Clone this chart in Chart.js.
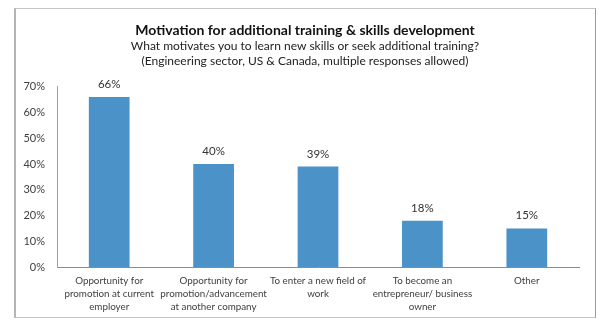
<!DOCTYPE html>
<html>
  <head>
    <style>
      body {
        margin: 0;
        background: #fff;
      }
      #frame {
        position: absolute;
        left: 14px;
        top: 8px;
        width: 579px;
        height: 308px;
        border: 1px solid #c4c4c4;
        border-left: 2px solid #b4b4b4;
        border-right-color: #9a9a9a;
      }
      #myChart {
        position: absolute;
        left: 0;
        top: 0;
      }
    </style>
  </head>

  <body>
    <div id="frame"></div>
    <canvas id="myChart" width="610" height="326"></canvas>

    <script src="https://cdn.jsdelivr.net/npm/chart.js"></script>
    <script>
      const ctx = document.getElementById('myChart');

      const reasons = [
        ['Opportunity for', 'promotion at current', 'employer'],
        ['Opportunity for', 'promotion/advancement', 'at another company'],
        ['To enter a new field of', 'work'],
        ['To become an', 'entrepreneur/ business', 'owner'],
        'Other'
      ];
      const shares = [66, 40, 39, 18, 15];
      const yTicks = [0, 10, 20, 30, 40, 50, 60, 70];

      const barBlue = '#4a92c8';
      const fontFamily = 'Lato, "Open Sans", sans-serif';

      // percentage text above each bar
      const valueLabels = {
        id: 'valueLabels',
        afterDatasetsDraw(chart) {
          const c = chart.ctx;
          const meta = chart.getDatasetMeta(0);
          c.save();
          c.font = '11.5px ' + fontFamily;
          c.fillStyle = '#333';
          c.textAlign = 'center';
          c.textBaseline = 'bottom';
          meta.data.forEach((bar, i) => {
            c.fillText(chart.data.datasets[0].data[i] + '%', bar.x, bar.y - 7);
          });
          c.restore();
        }
      };

      // centre the heading lines on the whole frame rather than the padded box
      const centerHeadings = {
        id: 'centerHeadings',
        afterLayout(chart) {
          chart.boxes.forEach(b => {
            if (b.position === 'top' && b.options && b.options.text !== undefined) {
              b.left += 16;
            }
          });
        }
      };

      new Chart(ctx, {
        type: 'bar',
        data: {
          labels: reasons,
          datasets: [{
            data: shares,
            backgroundColor: barBlue,
            categoryPercentage: 1,
            barPercentage: 0.39
          }]
        },
        plugins: [valueLabels, centerHeadings],
        options: {
          responsive: false,
          animation: false,
          layout: {
            padding: { top: 8, left: 15, right: 31, bottom: 0 }
          },
          plugins: {
            legend: { display: false },
            tooltip: { enabled: false },
            title: {
              display: true,
              text: 'Motivation for additional training & skills development',
              color: '#111',
              font: { family: fontFamily, size: 14, weight: 'bold', lineHeight: 1.2 },
              padding: { top: 14, bottom: 0 }
            },
            subtitle: {
              display: true,
              text: [
                'What motivates you to learn new skills or seek additional training?',
                '(Engineering sector, US & Canada, multiple responses allowed)'
              ],
              color: '#222',
              font: { family: fontFamily, size: 12, lineHeight: 1.25 },
              padding: { top: 0, bottom: 18 }
            }
          },
          scales: {
            x: {
              grid: { display: false, drawTicks: false },
              border: { display: true, color: '#8c8c8c' },
              ticks: {
                color: '#404040',
                padding: 8,
                maxRotation: 0,
                autoSkip: false,
                font: { family: fontFamily, size: 9.8, lineHeight: 1.28 }
              },
              afterFit(scale) {
                scale.height = 59;
              }
            },
            y: {
              min: 0,
              max: 70,
              afterBuildTicks(scale) {
                scale.ticks = yTicks.map(v => ({ value: v }));
              },
              grid: { display: false, drawTicks: false },
              border: { display: true, color: '#a0a0a0' },
              ticks: {
                color: '#404040',
                padding: 12,
                font: { family: fontFamily, size: 11 },
                callback: v => v + '%'
              },
              afterFit(scale) {
                scale.width = 42;
              }
            }
          }
        }
      });
    </script>
  </body>
</html>
